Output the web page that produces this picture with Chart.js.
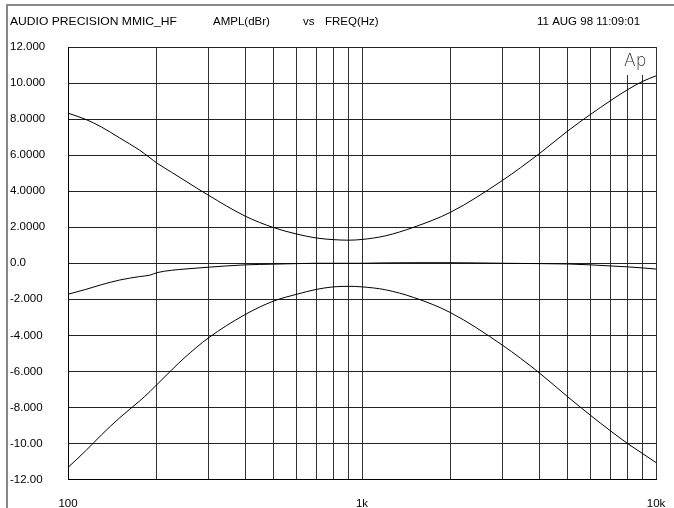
<!DOCTYPE html>
<html>
<head>
<meta charset="utf-8">
<script src="https://cdn.jsdelivr.net/npm/chart.js@4.4.0/dist/chart.umd.min.js"></script>
<style>
  html, body { margin: 0; padding: 0; background: #fff; }
  #wrap { width: 674px; height: 508px; }
</style>
</head>
<body>
<div id="wrap"><canvas id="apChart"></canvas></div>
<script>
// sweep data (Hz / dBr)
const freqs = [100, 115, 130, 150, 175, 190, 201, 225, 250, 300, 400, 500, 600, 700, 800, 900, 1000, 1200, 1500, 2000, 3000, 4000, 5000, 6000, 7000, 8000, 9000, 10000];
const upperDb = [8.33, 7.98, 7.56, 6.95, 6.28, 5.85, 5.55, 5.05, 4.58, 3.78, 2.62, 1.98, 1.62, 1.4, 1.31, 1.28, 1.32, 1.52, 2.0, 2.83, 4.59, 6.07, 7.33, 8.27, 9.02, 9.63, 10.09, 10.4];
const middleDb = [-1.72, -1.45, -1.19, -0.93, -0.74, -0.66, -0.52, -0.39, -0.32, -0.22, -0.09, -0.05, -0.02, 0, 0, 0, 0, 0.02, 0.03, 0.03, 0, -0.02, -0.04, -0.09, -0.15, -0.2, -0.26, -0.32];
const lowerDb = [-11.33, -10.4, -9.52, -8.57, -7.65, -7.12, -6.72, -5.93, -5.22, -4.15, -2.85, -2.1, -1.72, -1.45, -1.31, -1.28, -1.31, -1.47, -1.9, -2.74, -4.54, -6.07, -7.4, -8.45, -9.3, -10.0, -10.56, -11.06];

const xGridValues = [100, 200, 300, 400, 500, 600, 700, 800, 900, 1000, 2000, 3000, 4000, 5000, 6000, 7000, 8000, 9000, 10000];
const xLabelValues = [100, 1000, 10000];
const xLabelTexts = ['100', '1k', '10k'];
const yTickValues = [12, 10, 8, 6, 4, 2, 0, -2, -4, -6, -8, -10, -12];
const yTickLabels = ['12.000', '10.000', '8.0000', '6.0000', '4.0000', '2.0000', '0.0', '-2.000', '-4.000', '-6.000', '-8.000', '-10.00', '-12.00'];
const headerTexts = ['AUDIO PRECISION MMIC_HF', 'AMPL(dBr)', 'vs', 'FREQ(Hz)', '11 AUG 98 11:09:01'];

const FONT = '"Liberation Sans", Arial, sans-serif';
const headerX = [10, 213, 303, 325, 537];

function toPoints(ys) {
    return freqs.map((f, i) => ({ x: f, y: ys[i] }));
}

const apPlugin = {
    id: 'apDecor',
    beforeDatasetsDraw(chart) {
        const { ctx, chartArea } = chart;
        // blank box behind the Ap logo
        ctx.save();
        ctx.fillStyle = '#fff';
        ctx.fillRect(chartArea.right - 37, chartArea.top + 1, 36, 27);
        ctx.restore();
    },
    afterDraw(chart) {
        const { ctx, chartArea } = chart;
        ctx.save();
        ctx.strokeStyle = '#888';
        ctx.lineWidth = 2;
        ctx.beginPath();
        ctx.moveTo(7, 508);
        ctx.lineTo(7, 5);
        ctx.lineTo(674, 5);
        ctx.stroke();

        ctx.fillStyle = '#000';
        ctx.font = '11.5px ' + FONT;
        ctx.textBaseline = 'middle';
        ctx.textAlign = 'left';
        headerTexts.forEach((t, i) => {
            // the original header is drawn a bit wider than Arial
            const w = ctx.measureText(t).width;
            ctx.save();
            ctx.translate(headerX[i], 22);
            ctx.scale(i === 0 ? 167 / w : 1.0, 1);
            ctx.fillText(t, 0, 0);
            ctx.restore();
        });

        ctx.fillStyle = '#333';
        ctx.font = '300 17px "DejaVu Sans", ' + FONT;
        ctx.textBaseline = 'alphabetic';
        ctx.fillText('Ap', chartArea.right - 32, chartArea.top + 19);
        ctx.restore();
    }
};

const ctx = document.getElementById('apChart').getContext('2d');
new Chart(ctx, {
    type: 'line',
    data: {
        datasets: [
            { data: toPoints(upperDb) },
            { data: toPoints(middleDb) },
            { data: toPoints(lowerDb) }
        ]
    },
    options: {
        animation: false,
        responsive: true,
        maintainAspectRatio: false,
        layout: { padding: { left: 10, top: 47, right: 18, bottom: 0 } },
        plugins: {
            legend: { display: false },
            tooltip: { enabled: false }
        },
        elements: {
            point: { radius: 0 },
            line: { borderWidth: 1, borderColor: '#000', fill: false, cubicInterpolationMode: 'monotone' }
        },
        scales: {
            x: {
                type: 'logarithmic',
                min: 100,
                max: 10000,
                afterBuildTicks: s => { s.ticks = xGridValues.map(v => ({ value: v })); },
                afterFit: s => { s.height = 28.5; s.paddingLeft = 0; s.paddingRight = 0; },
                grid: { color: '#333', lineWidth: 1, drawTicks: false },
                border: { color: '#000', width: 1 },
                ticks: {
                    autoSkip: false,
                    maxRotation: 0,
                    padding: 17,
                    color: '#000',
                    font: { family: FONT, size: 11.5 },
                    callback: v => {
                        const k = xLabelValues.indexOf(v);
                        return k >= 0 ? xLabelTexts[k] : '';
                    }
                }
            },
            y: {
                min: -12,
                max: 12,
                afterBuildTicks: s => { s.ticks = yTickValues.map(v => ({ value: v })); },
                afterFit: s => { s.width = 58; },
                grid: { color: '#222', lineWidth: 1, drawTicks: false },
                border: { color: '#000', width: 1 },
                ticks: {
                    crossAlign: 'far',
                    padding: 0,
                    color: '#000',
                    font: { family: FONT, size: 11.5 },
                    callback: v => yTickLabels[yTickValues.indexOf(v)]
                }
            }
        }
    },
    plugins: [apPlugin]
});
</script>
</body>
</html>
